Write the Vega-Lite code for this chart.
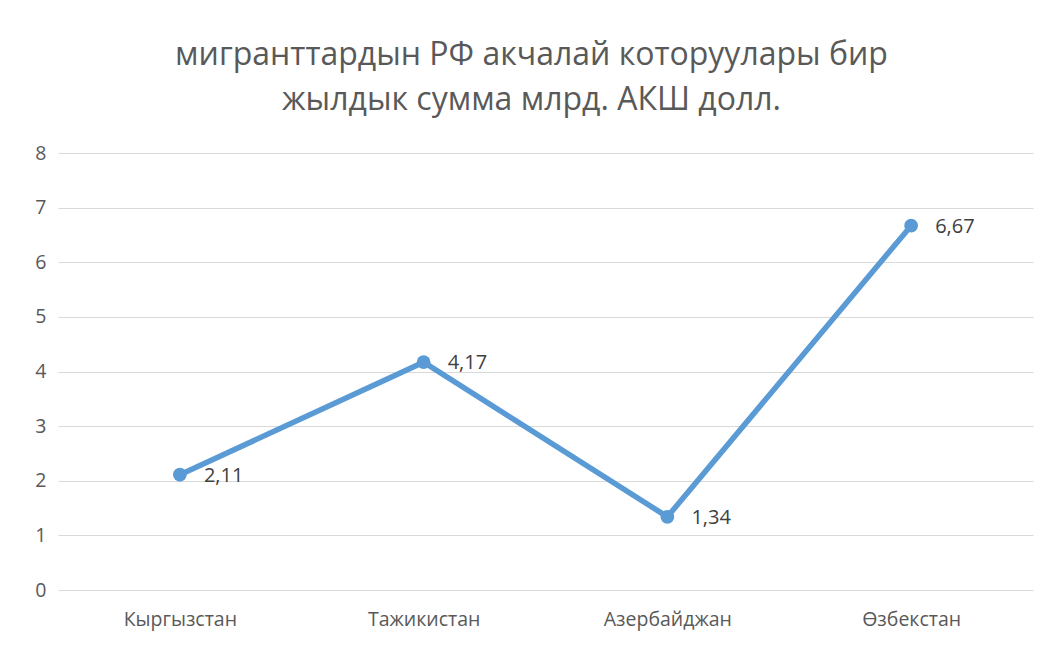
{
  "$schema": "https://vega.github.io/schema/vega-lite/v6.json",
  "width": 975,
  "height": 437,
  "autosize": "none",
  "padding": {"left": 58, "top": 153, "right": 21, "bottom": 57},
  "background": "white",
  "title": {
    "text": ["мигранттардын РФ акчалай которуулары бир", "жылдык сумма млрд. АКШ долл."],
    "font": "Open Sans",
    "fontSize": 32,
    "fontWeight": "normal",
    "color": "#595959",
    "anchor": "middle",
    "dx": -14,
    "offset": 26,
    "lineHeight": 45
  },
  "data": {
    "values": [
      {"country": "Кыргызстан", "value": 2.11},
      {"country": "Тажикистан", "value": 4.17},
      {"country": "Азербайджан", "value": 1.34},
      {"country": "Өзбекстан", "value": 6.67}
    ]
  },
  "encoding": {
    "x": {
      "field": "country",
      "type": "nominal",
      "sort": null,
      "scale": {"type": "point", "padding": 0.5},
      "axis": {
        "title": null,
        "labelAngle": 0,
        "ticks": false,
        "domain": false,
        "grid": false,
        "labelPadding": 20,
        "labelFont": "Open Sans",
        "labelFontSize": 19.5,
        "labelColor": "#595959"
      }
    },
    "y": {
      "field": "value",
      "type": "quantitative",
      "scale": {"domain": [0, 8], "nice": false},
      "axis": {
        "title": null,
        "values": [0, 1, 2, 3, 4, 5, 6, 7, 8],
        "labelOverlap": false,
        "ticks": false,
        "domain": false,
        "gridColor": "#D9D9D9",
        "gridWidth": 1,
        "labelPadding": 12,
        "labelFont": "Open Sans",
        "labelFontSize": 19.5,
        "labelColor": "#595959"
      }
    }
  },
  "layer": [
    {
      "mark": {"type": "line", "color": "#5B9BD5", "strokeWidth": 5.5, "point": {"filled": true, "size": 190, "color": "#5B9BD5", "opacity": 1}}
    },
    {
      "mark": {"type": "text", "align": "left", "baseline": "middle", "dx": 24, "dy": 1, "font": "Open Sans", "fontSize": 20, "color": "#404040"},
      "encoding": {"text": {"field": "value", "type": "quantitative", "format": ".2f"}}
    }
  ],
  "config": {
    "view": {"stroke": null},
    "locale": {"number": {"decimal": ",", "thousands": " ", "grouping": [3], "currency": ["", ""]}}
  }
}
